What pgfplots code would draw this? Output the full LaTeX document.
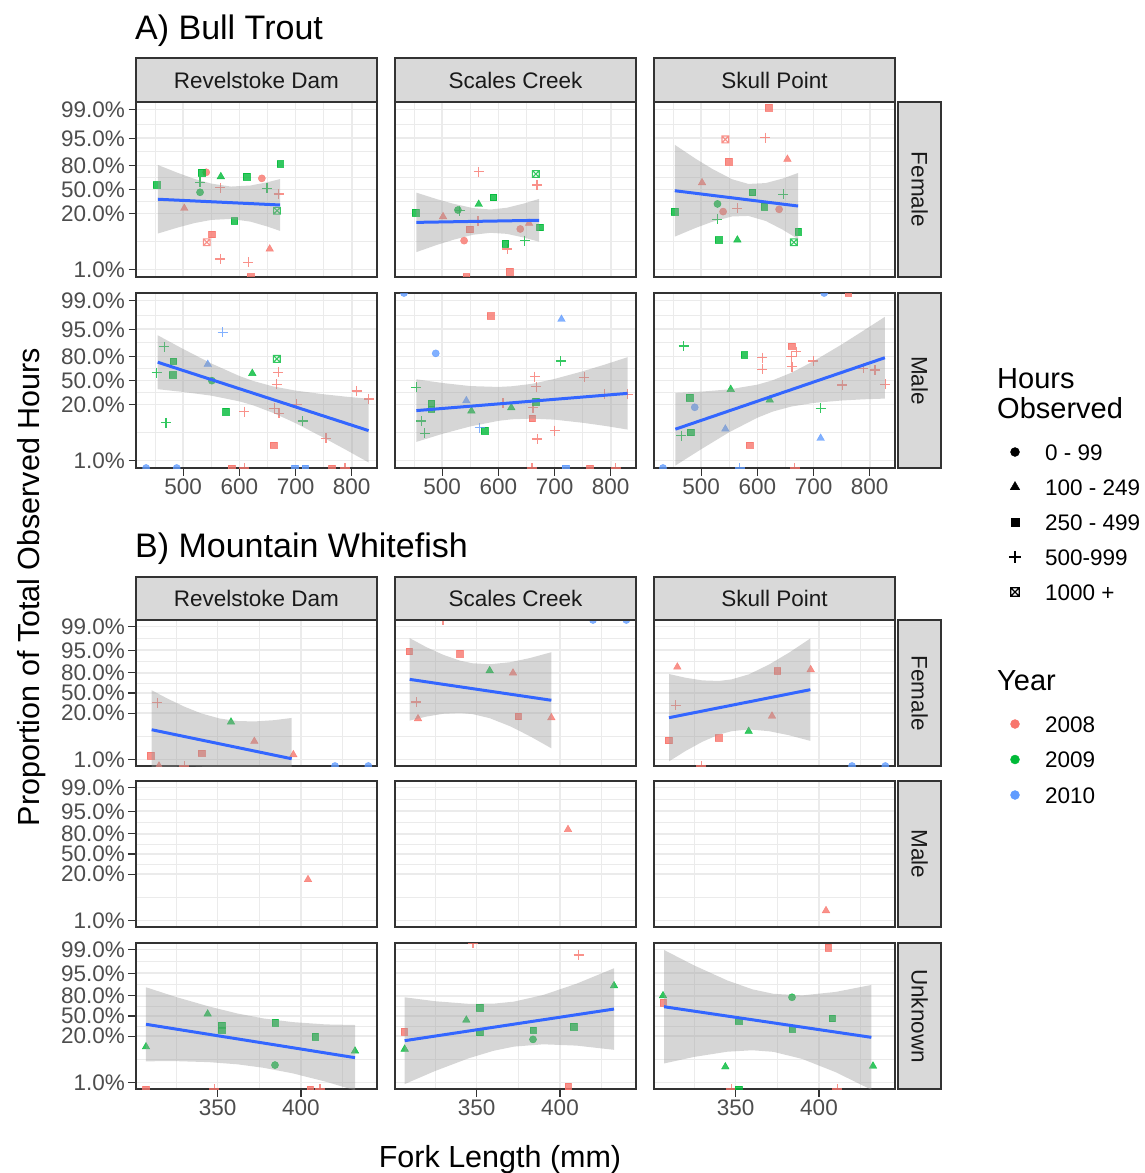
\documentclass[border=0pt]{standalone}
\usepackage{pgfplots}
\pgfplotsset{compat=1.18}
\usepackage{fontspec}
\setmainfont{Liberation Sans}
\usetikzlibrary{plotmarks}

\definecolor{c08}{HTML}{F8766D}
\definecolor{c09}{HTML}{00BA38}
\definecolor{c10}{HTML}{619CFF}
\definecolor{grid92}{HTML}{EBEBEB}
\definecolor{g20}{HTML}{333333}
\definecolor{g30}{HTML}{4D4D4D}
\definecolor{g10}{HTML}{1A1A1A}
\definecolor{stripc}{HTML}{D9D9D9}
\definecolor{fitblue}{HTML}{3366FF}
\definecolor{g60}{HTML}{999999}

\newcommand{\ticksize}{\fontsize{22.5}{27}\selectfont}
\newcommand{\titlesize}{\fontsize{34}{40}\selectfont}
\newcommand{\axtitlesize}{\fontsize{30.5}{36}\selectfont}
\newcommand{\legtitlesize}{\fontsize{29}{34}\selectfont}

\pgfdeclareplotmark{boxx}{%
  \pgfpathrectangle{\pgfqpoint{-\pgfplotmarksize}{-\pgfplotmarksize}}{\pgfqpoint{2\pgfplotmarksize}{2\pgfplotmarksize}}%
  \pgfpathmoveto{\pgfqpoint{-\pgfplotmarksize}{-\pgfplotmarksize}}%
  \pgfpathlineto{\pgfqpoint{\pgfplotmarksize}{\pgfplotmarksize}}%
  \pgfpathmoveto{\pgfqpoint{-\pgfplotmarksize}{\pgfplotmarksize}}%
  \pgfpathlineto{\pgfqpoint{\pgfplotmarksize}{-\pgfplotmarksize}}%
  \pgfusepathqstroke}

\tikzset{
  m0/.style={mark=*, mark size=3.6pt, line width=0.4pt},
  m1/.style={mark=triangle*, mark size=4.4pt, line width=0.4pt},
  m2/.style={mark=square*, mark size=3.3pt, line width=0.4pt},
  m3/.style={mark=+, mark size=5pt, line width=1.3pt},
  m4/.style={mark=boxx, mark size=3.4pt, line width=1.1pt},
}

\pgfplotsset{
  panel/.style={
    scale only axis, width=241pt,
    axis line style={draw=g20, line width=1.2pt},
    grid=both,
    major grid style={draw=grid92, line width=1.6pt},
    minor grid style={draw=grid92, line width=0.8pt},
    tick align=outside, tick pos=left,
    major tick length=7.5pt, minor tick length=0pt,
    tick style={draw=g20, line width=1.2pt},
    ymin=-5.03, ymax=5.03,
    ytick={-4.595,-1.386,0,1.386,2.944,4.595},
    minor ytick={-2.99,-0.693,0.693,2.165,3.77},
    yticklabels={1.0\%,20.0\%,50.0\%,80.0\%,95.0\%,99.0\%},
    ticklabel style={font=\ticksize, text=g30},
    yticklabel style={inner ysep=0pt},
    /pgf/number format/assume math mode=true,
    scaled ticks=false,
    clip marker paths=true,
    anchor=north west,
  },
  bt/.style={panel, height=175pt, xmin=416, xmax=845, xtick={500,600,700,800}, minor xtick={450,550,650,750}},
  mw/.style={panel, height=146pt, xmin=301, xmax=445.6, xtick={350,400}, minor xtick={325,375,425}},
  noyl/.style={yticklabels={}, major y tick style={draw=none}},
  noxl/.style={xticklabels={}, major x tick style={draw=none}},
  pts/.style={only marks, scatter, scatter src=explicit symbolic,
    scatter/classes={
      r0={m0,draw=c08,fill=c08,opacity=0.8}, r1={m1,draw=c08,fill=c08,opacity=0.8},
      r2={m2,draw=c08,fill=c08,opacity=0.8}, r3={m3,draw=c08,opacity=0.8}, r4={m4,draw=c08,opacity=0.8},
      g0={m0,draw=c09,fill=c09,opacity=0.8}, g1={m1,draw=c09,fill=c09,opacity=0.8},
      g2={m2,draw=c09,fill=c09,opacity=0.8}, g3={m3,draw=c09,opacity=0.8}, g4={m4,draw=c09,opacity=0.8},
      b0={m0,draw=c10,fill=c10,opacity=0.8}, b1={m1,draw=c10,fill=c10,opacity=0.8},
      b2={m2,draw=c10,fill=c10,opacity=0.8}, b3={m3,draw=c10,opacity=0.8}, b4={m4,draw=c10,opacity=0.8}}},
  rib/.style={draw=none, fill=g60, fill opacity=0.4, forget plot},
  fit/.style={draw=fitblue, line width=3pt, no marks, forget plot},
}

\begin{document}
\begin{tikzpicture}
\path[use as bounding box] (0pt,0pt) rectangle (1145pt,-1173pt);

%================ A) Bull Trout =================
% Revelstoke Dam / Female
\begin{axis}[bt, at={(136pt,-102pt)}, noxl]
\addplot[pts] table[x=x,y=y,meta=c,row sep=\\]{x y c\\
541 0.99 r0\\ 566 0.10 r3\\ 502 -1.08 r1\\ 640 0.64 r0\\ 670 -0.26 r3\\ 551 -2.57 r2\\ 542 -3.03 r4\\ 654 -3.42 r1\\ 566 -3.99 r3\\ 616 -4.18 r3\\ 620 -5.03 r2\\
452.8 0.26 g2\\ 533 0.97 g2\\ 567 0.74 g1\\ 530 0.41 g3\\ 530 -0.16 g0\\ 613 0.74 g2\\ 672.5 1.47 g2\\ 649 0.07 g3\\ 667 -1.22 g4\\ 591 -1.81 g2\\
};
\addplot[rib] coordinates {(455,1.41)(490,0.96)(520,0.61)(550,0.34)(585,0.17)(620,0.23)(650,0.42)(672.5,0.60)
 (672.5,-2.38)(650,-2.13)(620,-1.85)(585,-1.69)(550,-1.75)(520,-1.93)(490,-2.19)(455,-2.53)};
\addplot[fit] coordinates {(455,-0.56)(672.5,-0.89)};
\end{axis}

% Scales Creek / Female
\begin{axis}[bt, at={(395pt,-102pt)}, noxl, noyl]
\addplot[pts] table[x=x,y=y,meta=c,row sep=\\]{x y c\\
501.5 -1.56 r1\\ 565 1.02 r3\\ 564 -1.81 r3\\ 549 -2.29 r2\\ 539 -2.94 r0\\ 616 -3.42 r3\\ 639 -2.27 r0\\ 654.7 -1.94 r1\\ 669 0.26 r3\\ 620 -4.72 r2\\ 543 -5.03 r2\\
452.9 -1.33 g2\\ 528 -1.18 g0\\ 531 -1.22 g3\\ 565 -0.85 g1\\ 591 -0.45 g2\\ 612.5 -3.11 g2\\ 647 -2.94 g3\\ 674 -2.17 g2\\ 666.7 0.89 g4\\
};
\addplot[rib] coordinates {(454,-0.18)(490,-0.55)(520,-0.82)(555,-1.07)(586,-1.15)(615,-1.05)(645,-0.81)(672.5,-0.54)
 (672.5,-3.00)(645,-2.76)(615,-2.55)(586,-2.49)(555,-2.60)(520,-2.89)(490,-3.19)(454,-3.60)};
\addplot[fit] coordinates {(454,-1.89)(672.5,-1.77)};
\end{axis}

% Skull Point / Female
\begin{axis}[bt, at={(654pt,-102pt)}, noxl, noyl]
\addplot[pts] table[x=x,y=y,meta=c,row sep=\\]{x y c\\
620.3 4.70 r2\\ 543 2.88 r4\\ 614 2.98 r3\\ 549 1.60 r2\\ 653.5 1.74 r1\\ 501.5 0.39 r1\\ 539 -1.27 r0\\ 564.4 -1.08 r3\\ 638.7 -1.14 r0\\
453 -1.27 g2\\ 529 -0.83 g0\\ 529 -1.71 g3\\ 591 -0.16 g2\\ 612 -0.99 g2\\ 646 -0.28 g3\\ 531 -2.90 g2\\ 564.4 -2.90 g1\\ 672.5 -2.42 g2\\ 665 -3.03 g4\\
};
\addplot[rib] coordinates {(453,2.57)(490,1.77)(520,1.18)(555,0.59)(584,0.32)(615,0.37)(645,0.63)(672.5,0.95)
 (672.5,-2.85)(645,-2.31)(615,-1.81)(584,-1.52)(555,-1.55)(520,-1.85)(490,-2.21)(453,-2.71)};
\addplot[fit] coordinates {(453,-0.07)(672.5,-0.95)};
\end{axis}

% Revelstoke Dam / Male
\begin{axis}[bt, at={(136pt,-293pt)}]
\addplot[pts] table[x=x,y=y,meta=c,row sep=\\]{x y c\\
609 -1.79 r3\\ 669.6 0.47 r3\\ 666.7 -0.22 r3\\ 662.4 -1.60 r3\\ 670.8 -1.89 r3\\ 702.3 -1.37 r3\\ 660.6 -3.71 r2\\ 754 -3.32 r3\\ 809 -0.60 r3\\ 830 -1.06 r3\\
586.5 -5.03 r2\\ 609 -5.03 r3\\ 764.6 -5.03 r2\\ 788 -5.03 r3\\
452.9 0.45 g3\\ 466.5 1.94 g3\\ 482.5 1.12 g2\\ 481 0.32 g2\\ 469.5 -2.43 g3\\ 551 -0.01 g0\\ 576 -1.79 g2\\ 623 0.41 g1\\ 666.7 1.24 g4\\ 713 -2.33 g3\\
543.7 0.93 b1\\ 570 2.77 b3\\ 434 -5.03 b0\\ 488.5 -5.03 b0\\ 699 -5.03 b2\\ 717 -5.03 b2\\
};
\addplot[rib] coordinates {(454.7,2.60)(500,1.81)(550,0.98)(600,0.26)(624,-0.02)(660,-0.34)(700,-0.58)(750,-0.79)(790,-0.93)(830,-1.05)
 (830,-4.71)(790,-3.99)(750,-3.29)(700,-2.45)(660,-1.86)(624,-1.42)(600,-1.20)(550,-0.87)(500,-0.66)(454.7,-0.50)};
\addplot[fit] coordinates {(454.7,1.05)(830,-2.88)};
\end{axis}

% Scales Creek / Male
\begin{axis}[bt, at={(395pt,-293pt)}, noyl]
\addplot[pts] table[x=x,y=y,meta=c,row sep=\\]{x y c\\
586.5 3.71 r2\\ 608.4 -1.31 r3\\ 664.9 0.22 r3\\ 667.7 -0.36 r3\\ 661.9 -1.56 r3\\ 660 -2.17 r2\\ 669.5 -3.36 r3\\ 700.5 -2.88 r3\\ 752.7 0.18 r3\\ 788.3 -0.79 r3\\ 830 -0.79 r3\\
660 -5.03 r3\\ 763 -5.03 r2\\ 809 -5.03 r3\\
711.2 1.12 g3\\ 454 -0.39 g3\\ 480.7 -1.31 g2\\ 480.7 -1.64 g2\\ 463 -2.33 g3\\ 469 -3.03 g3\\ 552 -1.75 g1\\ 575.8 -2.88 g2\\ 623 -1.56 g1\\ 666.7 -1.22 g2\\
432 5.03 b0\\ 488.5 1.56 b0\\ 712.3 3.52 b1\\ 543 -1.16 b1\\ 567 -2.71 b3\\ 719.4 -5.03 b2\\
};
\addplot[rib] coordinates {(454,0.07)(500,-0.14)(550,-0.32)(600,-0.37)(624,-0.33)(660,-0.19)(700,0.09)(750,0.53)(790,0.92)(830,1.34)
 (830,-2.82)(790,-2.61)(750,-2.43)(700,-2.25)(660,-2.19)(624,-2.23)(600,-2.32)(550,-2.64)(500,-3.07)(454,-3.53)};
\addplot[fit] coordinates {(454,-1.73)(830,-0.74)};
\end{axis}

% Skull Point / Male
\begin{axis}[bt, at={(654pt,-293pt)}, noyl]
\addplot[pts] table[x=x,y=y,meta=c,row sep=\\]{x y c\\
761.6 5.03 r2\\ 660.6 1.98 r2\\ 669.5 1.66 r3\\ 660.6 1.37 r3\\ 661.9 0.79 r3\\ 609 1.31 r3\\ 609 0.64 r3\\ 699.3 1.12 r3\\ 751 -0.26 r3\\ 788.4 0.70 r3\\ 809.2 0.60 r3\\ 828 -0.22 r3\\ 586.5 -3.71 r2\\ 666.7 -5.03 r3\\
468.9 1.98 g3\\ 576.3 1.47 g2\\ 552.6 -0.51 g1\\ 622 -1.12 g1\\ 479.6 -0.99 g2\\ 481.4 -2.98 g2\\ 464.6 -3.17 g3\\ 712.6 -1.60 g3\\
718.9 5.03 b0\\ 488.5 -1.54 b0\\ 543 -2.79 b1\\ 712.6 -3.32 b1\\ 432 -5.03 b0\\ 568.7 -5.03 b3\\
};
\addplot[rib] coordinates {(454,-0.71)(500,-0.64)(550,-0.51)(600,-0.24)(627,0.01)(660,0.44)(700,1.11)(750,2.07)(790,2.89)(827,3.66)
 (827,-1.04)(790,-1.08)(750,-1.15)(700,-1.29)(660,-1.50)(627,-1.79)(600,-2.14)(550,-2.97)(500,-3.95)(454,-4.89)};
\addplot[fit] coordinates {(454,-2.80)(827,1.31)};
\end{axis}

%================ B) Mountain Whitefish =================
% Revelstoke Dam / Female
\begin{axis}[mw, at={(136pt,-620pt)}, noxl]
\addplot[pts] table[x=x,y=y,meta=c,row sep=\\]{x y c\\
313.8 -0.67 r3\\ 372 -3.33 r1\\ 340.4 -4.14 r2\\ 309.8 -4.30 r2\\ 395.4 -4.25 r1\\ 314.8 -5.03 r1\\ 330 -5.03 r3\\
358 -2.0 g1\\ 420.4 -5.03 b0\\ 440.4 -5.03 b0\\
};
\addplot[rib] coordinates {(310.4,0.19)(320,-0.39)(330,-0.94)(340,-1.40)(351.3,-1.76)(362,-1.93)(372,-1.96)(384,-1.87)(394.4,-1.72)
 (394.4,-7.34)(384,-6.70)(372,-6.03)(362,-5.59)(351.3,-5.24)(340,-5.07)(330,-5.05)(320,-5.12)(310.4,-5.25)};
\addplot[fit] coordinates {(310.4,-2.53)(394.4,-4.53)};
\end{axis}

% Scales Creek / Female
\begin{axis}[mw, at={(395pt,-620pt)}, noxl, noyl]
\addplot[pts] table[x=x,y=y,meta=c,row sep=\\]{x y c\\
309.4 2.88 r2\\ 339.9 2.71 r2\\ 371.8 1.38 r1\\ 313.8 -0.62 r3\\ 314.8 -1.77 r1\\ 374.8 -1.61 r2\\ 394.8 -1.70 r1\\ 329.8 5.03 r3\\
357.8 1.54 g1\\ 419.8 5.03 b0\\ 439.8 5.03 b0\\
};
\addplot[rib] coordinates {(309.8,3.78)(320,3.15)(330,2.63)(340,2.23)(347.4,2.05)(358,1.98)(370,2.12)(382,2.41)(394.8,2.81)
 (394.8,-3.81)(382,-2.98)(370,-2.29)(358,-1.74)(347.4,-1.45)(340,-1.38)(330,-1.43)(320,-1.62)(309.8,-1.90)};
\addplot[fit] coordinates {(309.8,0.94)(394.8,-0.50)};
\end{axis}

% Skull Point / Female
\begin{axis}[mw, at={(654pt,-620pt)}, noxl, noyl]
\addplot[pts] table[x=x,y=y,meta=c,row sep=\\]{x y c\\
315 1.79 r1\\ 375 1.52 r2\\ 395 1.61 r1\\ 314 -0.85 r3\\ 371.8 -1.59 r1\\ 309.8 -3.26 r2\\ 339.8 -3.10 r2\\ 329.4 -5.03 r3\\
357.8 -2.64 g1\\ 419.8 -5.03 b0\\ 439.8 -5.03 b0\\
};
\addplot[rib] coordinates {(310,1.31)(320,1.05)(330,0.87)(340,0.83)(347.6,0.94)(358,1.29)(370,1.96)(382,2.78)(394.8,3.76)
 (394.8,-3.30)(382,-2.91)(370,-2.63)(358,-2.51)(347.6,-2.63)(340,-2.86)(330,-3.36)(320,-3.99)(310,-4.71)};
\addplot[fit] coordinates {(310,-1.70)(394.8,0.23)};
\end{axis}

% Male row
\begin{axis}[mw, at={(136pt,-781pt)}, noxl]
\addplot[pts] table[x=x,y=y,meta=c,row sep=\\]{x y c\\ 404.2 -1.76 r1\\};
\end{axis}
\begin{axis}[mw, at={(395pt,-781pt)}, noxl, noyl]
\addplot[pts] table[x=x,y=y,meta=c,row sep=\\]{x y c\\ 404.8 1.69 r1\\};
\end{axis}
\begin{axis}[mw, at={(654pt,-781pt)}, noxl, noyl]
\addplot[pts] table[x=x,y=y,meta=c,row sep=\\]{x y c\\ 404.2 -3.90 r1\\};
\end{axis}

% Unknown row
\begin{axis}[mw, at={(136pt,-943pt)}]
\addplot[pts] table[x=x,y=y,meta=c,row sep=\\]{x y c\\
307 -5.03 r2\\ 348 -5.03 r3\\ 405.4 -5.03 r2\\ 411.4 -5.03 r3\\
307 -2.12 g1\\ 344 0.14 g1\\ 352.4 -0.62 g2\\ 352.4 -0.97 g2\\ 384.4 -0.46 g2\\ 384.4 -3.38 g0\\ 408.4 -1.43 g2\\ 432.4 -2.41 g1\\
};
\addplot[rib] coordinates {(307,1.98)(325,1.31)(345,0.65)(362,0.17)(377.6,-0.17)(395,-0.42)(415,-0.58)(432.4,-0.62)
 (432.4,-5.12)(415,-4.53)(395,-3.95)(377.6,-3.57)(362,-3.33)(345,-3.18)(325,-3.11)(307,-3.12)};
\addplot[fit] coordinates {(307,-0.57)(432.4,-2.87)};
\end{axis}

\begin{axis}[mw, at={(395pt,-943pt)}, noyl]
\addplot[pts] table[x=x,y=y,meta=c,row sep=\\]{x y c\\
306.4 -1.08 r2\\ 411.2 4.21 r3\\ 347.8 5.03 r3\\ 404.8 -4.85 r2\\
306.8 -2.28 g1\\ 343.8 -0.28 g1\\ 351.8 0.57 g2\\ 351.8 -1.12 g2\\ 383.8 -0.97 g2\\ 383.8 -1.61 g0\\ 408.2 -0.74 g2\\ 432.4 2.09 g1\\
};
\addplot[rib] coordinates {(306.8,1.29)(325,1.02)(345,0.84)(360,0.85)(372.3,0.99)(390,1.45)(410,2.23)(432.4,3.29)
 (432.4,-2.33)(410,-2.04)(390,-1.95)(372.3,-2.11)(360,-2.40)(345,-2.92)(325,-3.79)(306.8,-4.69)};
\addplot[fit] coordinates {(306.8,-1.70)(432.4,0.48)};
\end{axis}

\begin{axis}[mw, at={(654pt,-943pt)}, noyl]
\addplot[pts] table[x=x,y=y,meta=c,row sep=\\]{x y c\\
306.4 0.92 r2\\ 405.4 4.71 r2\\ 347.4 -5.03 r3\\ 411 -5.03 r3\\
306.4 1.40 g1\\ 383.8 1.29 g0\\ 407.8 -0.16 g2\\ 351.8 -0.34 g2\\ 383.8 -0.90 g2\\ 343.8 -3.50 g1\\ 432.4 -3.45 g1\\ 351.8 -5.03 g2\\
};
\addplot[rib] coordinates {(307,4.55)(325,3.49)(345,2.45)(360,1.84)(372.7,1.53)(390,1.42)(410,1.66)(431.4,2.14)
 (431.4,-5.08)(410,-3.87)(390,-2.96)(372.7,-2.47)(360,-2.36)(345,-2.46)(325,-2.82)(307,-3.27)};
\addplot[fit] coordinates {(307,0.64)(431.4,-1.47)};
\end{axis}

%================ strips =================
\tikzset{stripbox/.style={draw=g20, line width=1.2pt, fill=stripc}, striptext/.style={font=\ticksize, text=g10, inner sep=0pt}}
\foreach \yt/\yb/\ybase in {58/102/88, 577/620/606.5}{
  \draw[stripbox] (136pt,-\yt pt) rectangle (377pt,-\yb pt);
  \draw[stripbox] (395pt,-\yt pt) rectangle (636pt,-\yb pt);
  \draw[stripbox] (654pt,-\yt pt) rectangle (895pt,-\yb pt);
  \node[striptext, anchor=base] at (256.5pt,-\ybase pt) {Revelstoke Dam};
  \node[striptext, anchor=base] at (515.5pt,-\ybase pt) {Scales Creek};
  \node[striptext, anchor=base] at (774.5pt,-\ybase pt) {Skull Point};
}
\draw[stripbox] (898pt,-102pt) rectangle (941pt,-277pt);
\node[striptext, anchor=base, rotate=-90] at (911.5pt,-189.5pt) {Female};
\draw[stripbox] (898pt,-293pt) rectangle (941pt,-468pt);
\node[striptext, anchor=base, rotate=-90] at (911.5pt,-380.5pt) {Male};
\draw[stripbox] (898pt,-620pt) rectangle (941pt,-766pt);
\node[striptext, anchor=base, rotate=-90] at (911.5pt,-693pt) {Female};
\draw[stripbox] (898pt,-781pt) rectangle (941pt,-927pt);
\node[striptext, anchor=base, rotate=-90] at (911.5pt,-854pt) {Male};
\draw[stripbox] (898pt,-943pt) rectangle (941pt,-1089pt);
\node[striptext, anchor=base, rotate=-90] at (911.5pt,-1016pt) {Unknown};

%================ titles =================
\node[anchor=base west, font=\titlesize, inner sep=0pt] at (135pt,-39pt) {A) Bull Trout};
\node[anchor=base west, font=\titlesize, inner sep=0pt] at (135pt,-557pt) {B) Mountain Whitefish};
\node[anchor=base, font=\axtitlesize, inner sep=0pt] at (500pt,-1167pt) {Fork Length (mm)};
\node[anchor=base, rotate=90, font=\axtitlesize, inner sep=0pt] at (39pt,-587pt) {Proportion of Total Observed Hours};

%================ legends =================
\node[anchor=base west, font=\legtitlesize, inner sep=0pt] at (997pt,-388pt) {Hours};
\node[anchor=base west, font=\legtitlesize, inner sep=0pt] at (997pt,-418pt) {Observed};
\node[anchor=base west, font=\legtitlesize, inner sep=0pt] at (997pt,-690.5pt) {Year};

\pgfplotsset{legax/.style={hide axis, scale only axis, width=20pt, height=20pt, xmin=0, xmax=1, ymin=0, ymax=1,
  anchor=north west,
  legend style={at={(0,1)}, anchor=north west, draw=none, fill=none, inner sep=0pt, outer sep=0pt,
    font=\ticksize, text=black, row sep=19pt, column sep=18pt,
    nodes={inner sep=0pt, text height=16pt, text depth=0pt}},
  legend cell align=left,
  legend image code/.code={\pgfpathrectangle{\pgfqpoint{-12pt}{-4pt}}{\pgfqpoint{24pt}{8pt}}\pgfusepath{}\draw[##1, mark options={scale=1.25}] plot coordinates {(0pt,0pt)};},
}}
\begin{axis}[legax, at={(1003pt,-444pt)}]
\addlegendimage{only marks, m0, black}\addlegendentry{0 - 99}
\addlegendimage{only marks, m1, black}\addlegendentry{100 - 249}
\addlegendimage{only marks, m2, black}\addlegendentry{250 - 499}
\addlegendimage{only marks, m3, black}\addlegendentry{500-999}
\addlegendimage{only marks, m4, black}\addlegendentry{1000 +}
\end{axis}
\begin{axis}[legax, at={(1003pt,-716pt)}, legend style={row sep=19.5pt}]
\addlegendimage{only marks, m0, c08}\addlegendentry{2008}
\addlegendimage{only marks, m0, c09}\addlegendentry{2009}
\addlegendimage{only marks, m0, c10}\addlegendentry{2010}
\end{axis}
\end{tikzpicture}
\end{document}
